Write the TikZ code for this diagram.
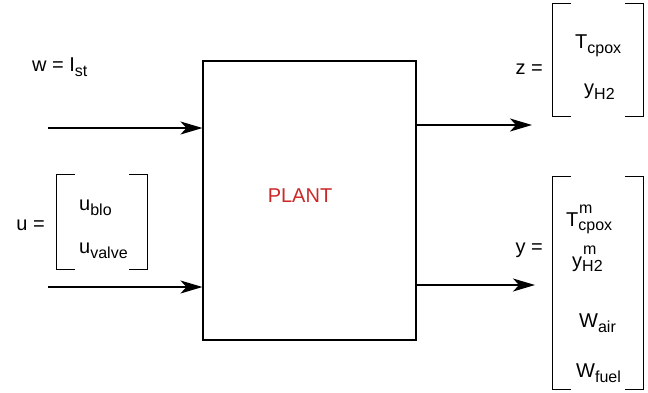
\documentclass[tikz,border=0pt]{standalone}
\usepackage{fontspec}
\setmainfont{Liberation Sans}
\usetikzlibrary{arrows.meta}
\newcommand\lsb[1]{\raisebox{-5pt}{\fontsize{16}{16}\selectfont #1}}
\newcommand\lsupsb[2]{\raisebox{-4pt}{\fontsize{16}{16}\selectfont\rlap{\raisebox{17pt}{\hspace{0.05em}#1}}#2}}
\begin{document}
\begin{tikzpicture}[x=1pt,y=1pt,
  every node/.style={font=\fontsize{20}{24}\selectfont, inner sep=0pt},
  txt/.style={anchor=base west},
  arr/.style={line width=1.2pt, -{Stealth[length=22pt,width=13pt,inset=6pt]}},
  brk/.style={line width=1.1pt},
  vec/.style={minimum width=90pt}]
\useasboundingbox (0,0) rectangle (648,-392);
\definecolor{plantred}{RGB}{204,40,40}
% plant
\node[draw, line width=1.1pt, minimum width=213pt, minimum height=279pt] (plant) at (309.5,-200.5) {};
\node[text=plantred] (plantlbl) at (300,-196) {PLANT};
% inputs
\node[txt] (wlbl) at (32,-71) {w = I\lsb{st}};
\coordinate (win) at (48,-128);
\draw[arr] (win) -- (plant.west |- win);
\node[anchor=base east] (ueq) at (45,-230.5) {u =};
\node[vec, minimum height=94pt] (ub) at (102,-222) {};
\draw[brk] ([xshift=18pt]ub.north west) -- (ub.north west) -- (ub.south west) -- ([xshift=18pt]ub.south west);
\draw[brk] ([xshift=-18pt]ub.north east) -- (ub.north east) -- (ub.south east) -- ([xshift=-18pt]ub.south east);
\node[txt] (ublo) at (79,-210) {u\lsb{blo}};
\node[txt] (uvalve) at (79,-253) {u\lsb{valve}};
\coordinate (uin) at (48,-287);
\draw[arr] (uin) -- (plant.west |- uin);
% outputs
\coordinate (zout) at (532,-125);
\draw[arr] (plant.east |- zout) -- (zout);
\node[anchor=base east] (zeq) at (543,-74.5) {z =};
\node[vec, minimum height=112pt] (zb) at (598,-60) {};
\draw[brk] ([xshift=18pt]zb.north west) -- (zb.north west) -- (zb.south west) -- ([xshift=18pt]zb.south west);
\draw[brk] ([xshift=-18pt]zb.north east) -- (zb.north east) -- (zb.south east) -- ([xshift=-18pt]zb.south east);
\node[txt] (tcpox) at (575,-48) {T\lsb{cpox}};
\node[txt] (yh2) at (584,-94) {y\lsb{H2}};
\coordinate (yout) at (535,-285);
\draw[arr] (plant.east |- yout) -- (yout);
\node[anchor=base east] (yeq) at (543,-253.5) {y =};
\node[vec, minimum height=212pt] (yb) at (598,-283) {};
\draw[brk] ([xshift=18pt]yb.north west) -- (yb.north west) -- (yb.south west) -- ([xshift=18pt]yb.south west);
\draw[brk] ([xshift=-18pt]yb.north east) -- (yb.north east) -- (yb.south east) -- ([xshift=-18pt]yb.south east);
\node[txt] (tm) at (566,-226) {T\lsupsb{m}{cpox}};
\node[txt] (ym) at (572,-267) {y\lsupsb{m}{H2}};
\node[txt] (wair) at (579,-327) {W\lsb{air}};
\node[txt] (wfuel) at (576,-377) {W\lsb{fuel}};
\end{tikzpicture}
\end{document}
